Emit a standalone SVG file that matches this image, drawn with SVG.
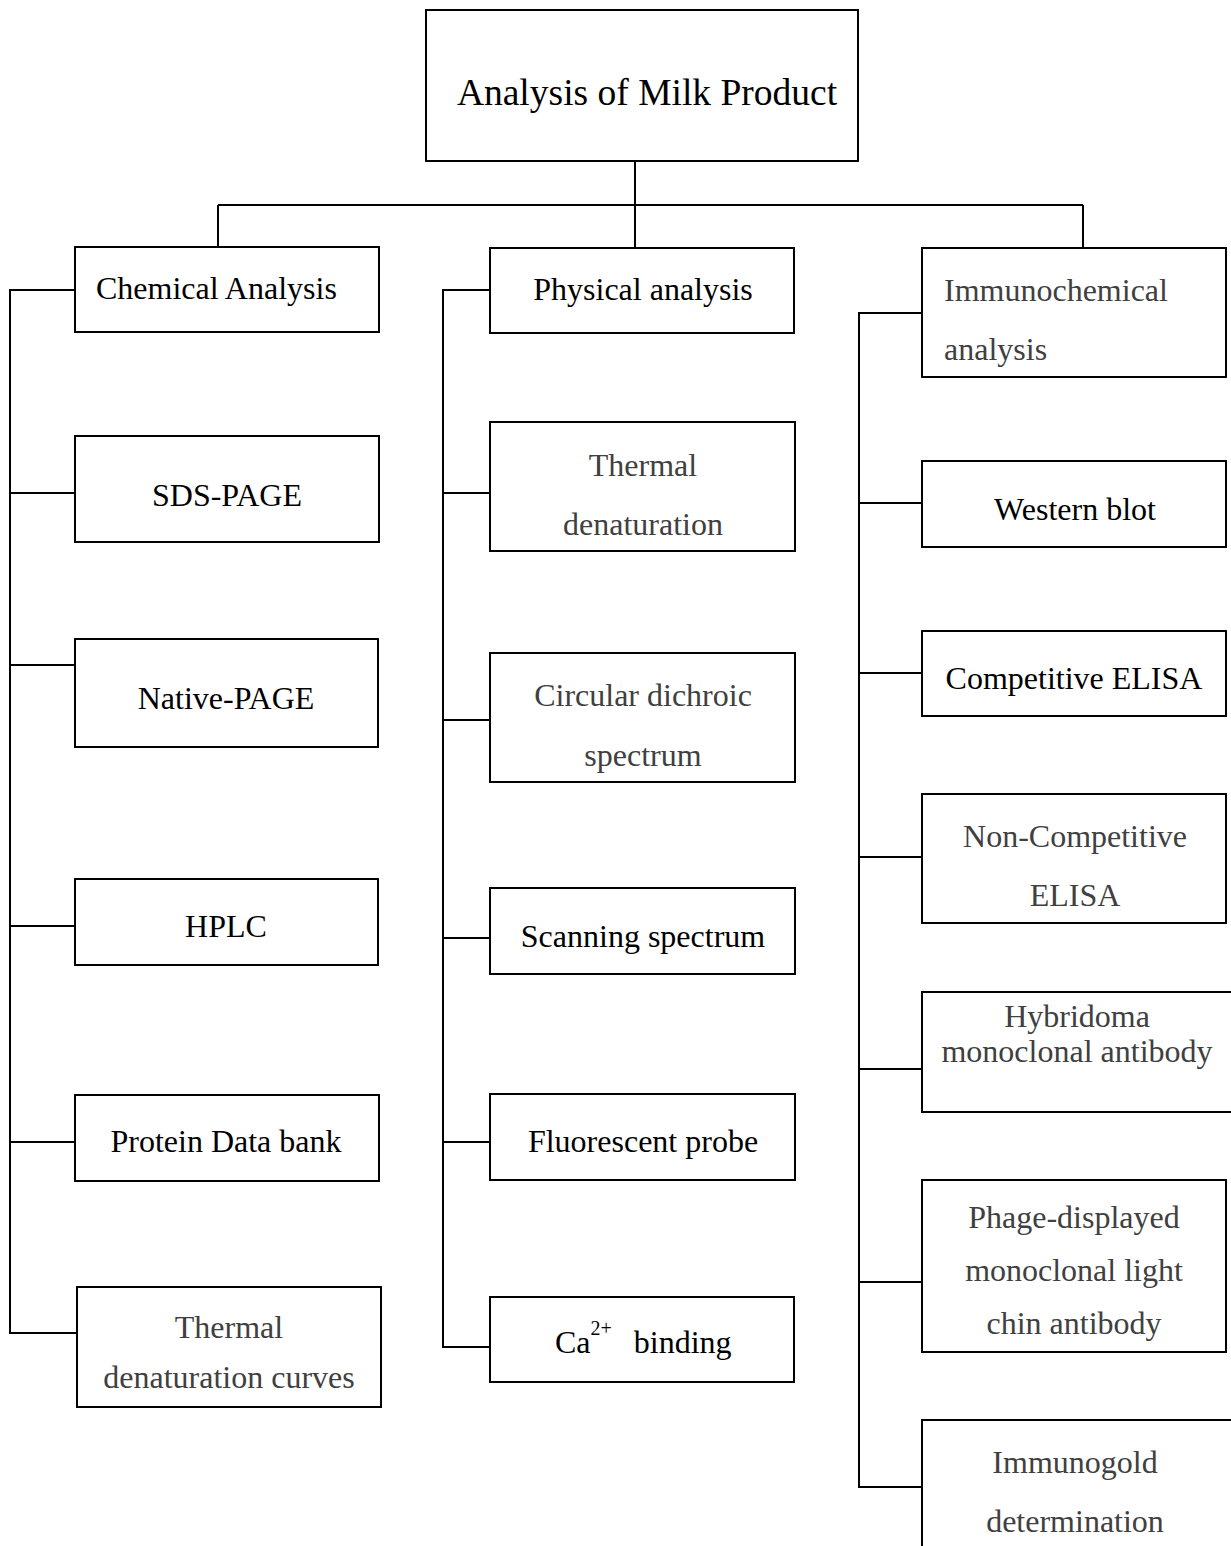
<svg xmlns="http://www.w3.org/2000/svg" width="1231" height="1546" viewBox="0 0 1231 1546">
<style>
rect{fill:#fff;stroke:#000;stroke-width:2}
line{stroke:#000;stroke-width:2}
text{font-family:"Liberation Serif","Times New Roman",serif;font-size:32px;fill:#000}
.c{text-anchor:middle}
.g{fill:#404040}
</style>
<rect width="1231" height="1546" style="stroke:none"/>
<g id="connectors">
<line x1="635" y1="161" x2="635" y2="248"/>
<line x1="218" y1="205" x2="1083" y2="205"/>
<line x1="218" y1="205" x2="218" y2="247"/>
<line x1="1083" y1="205" x2="1083" y2="248"/>
<line x1="10" y1="290" x2="10" y2="1334"/>
<line x1="9" y1="290" x2="75" y2="290"/>
<line x1="9" y1="493" x2="75" y2="493"/>
<line x1="9" y1="665" x2="75" y2="665"/>
<line x1="9" y1="926" x2="75" y2="926"/>
<line x1="9" y1="1142" x2="75" y2="1142"/>
<line x1="9" y1="1333" x2="77" y2="1333"/>
<line x1="443" y1="290" x2="443" y2="1348"/>
<line x1="442" y1="290" x2="490" y2="290"/>
<line x1="442" y1="493" x2="490" y2="493"/>
<line x1="442" y1="720" x2="490" y2="720"/>
<line x1="442" y1="938" x2="490" y2="938"/>
<line x1="442" y1="1142" x2="490" y2="1142"/>
<line x1="442" y1="1347" x2="490" y2="1347"/>
<line x1="859" y1="313" x2="859" y2="1488"/>
<line x1="858" y1="313" x2="922" y2="313"/>
<line x1="858" y1="503" x2="922" y2="503"/>
<line x1="858" y1="673" x2="922" y2="673"/>
<line x1="858" y1="857" x2="922" y2="857"/>
<line x1="858" y1="1069" x2="922" y2="1069"/>
<line x1="858" y1="1282" x2="922" y2="1282"/>
<line x1="858" y1="1487" x2="922" y2="1487"/>
</g>
<g id="root"><rect x="426" y="10" width="432" height="151"/><text x="647" y="105" class="c" style="font-size:37.5px">Analysis of Milk Product</text></g>
<g id="chem"><rect x="75" y="247" width="304" height="85"/><text x="96" y="299">Chemical Analysis</text></g>
<g id="sds"><rect x="75" y="436" width="304" height="106"/><text x="227" y="506" class="c">SDS-PAGE</text></g>
<g id="native"><rect x="75" y="639" width="303" height="108"/><text x="226" y="709" class="c">Native-PAGE</text></g>
<g id="hplc"><rect x="75" y="879" width="303" height="86"/><text x="226" y="937" class="c">HPLC</text></g>
<g id="pdb"><rect x="75" y="1095" width="304" height="86"/><text x="226" y="1152" class="c">Protein Data bank</text></g>
<g id="tdc"><rect x="77" y="1287" width="304" height="120"/><text x="229" y="1338" class="c g">Thermal</text><text x="229" y="1388" class="c g">denaturation curves</text></g>
<g id="phys"><rect x="490" y="248" width="304" height="85"/><text x="643" y="300" class="c">Physical analysis</text></g>
<g id="td"><rect x="490" y="422" width="305" height="129"/><text x="643" y="476" class="c g">Thermal</text><text x="643" y="535" class="c g">denaturation</text></g>
<g id="cd"><rect x="490" y="653" width="305" height="129"/><text x="643" y="706" class="c g">Circular dichroic</text><text x="643" y="766" class="c g">spectrum</text></g>
<g id="scan"><rect x="490" y="888" width="305" height="86"/><text x="643" y="947" class="c">Scanning spectrum</text></g>
<g id="fluo"><rect x="490" y="1094" width="305" height="86"/><text x="643" y="1152" class="c">Fluorescent probe</text></g>
<g id="ca"><rect x="490" y="1297" width="304" height="85"/><text x="555" y="1353">Ca<tspan dy="-18" style="font-size:20px">2+</tspan><tspan dy="18" dx="22">binding</tspan></text></g>
<g id="immuno"><rect x="922" y="248" width="304" height="129"/><text x="944" y="301" class="g">Immunochemical</text><text x="944" y="360" class="g">analysis</text></g>
<g id="wb"><rect x="922" y="461" width="304" height="86"/><text x="1075" y="520" class="c">Western blot</text></g>
<g id="celisa"><rect x="922" y="631" width="304" height="85"/><text x="1074" y="689" class="c">Competitive ELISA</text></g>
<g id="ncelisa"><rect x="922" y="794" width="304" height="129"/><text x="1075" y="847" class="c g">Non-Competitive</text><text x="1075" y="906" class="c g">ELISA</text></g>
<g id="hyb"><rect x="922" y="992" width="312" height="120"/><text x="1077" y="1027" class="c g">Hybridoma</text><text x="1077" y="1062" class="c g">monoclonal antibody</text></g>
<g id="phage"><rect x="922" y="1180" width="304" height="172"/><text x="1074" y="1228" class="c g">Phage-displayed</text><text x="1074" y="1281" class="c g">monoclonal light</text><text x="1074" y="1334" class="c g">chin antibody</text></g>
<g id="gold"><rect x="922" y="1420" width="312" height="140"/><text x="1075" y="1473" class="c g">Immunogold</text><text x="1075" y="1532" class="c g">determination</text></g>
</svg>
